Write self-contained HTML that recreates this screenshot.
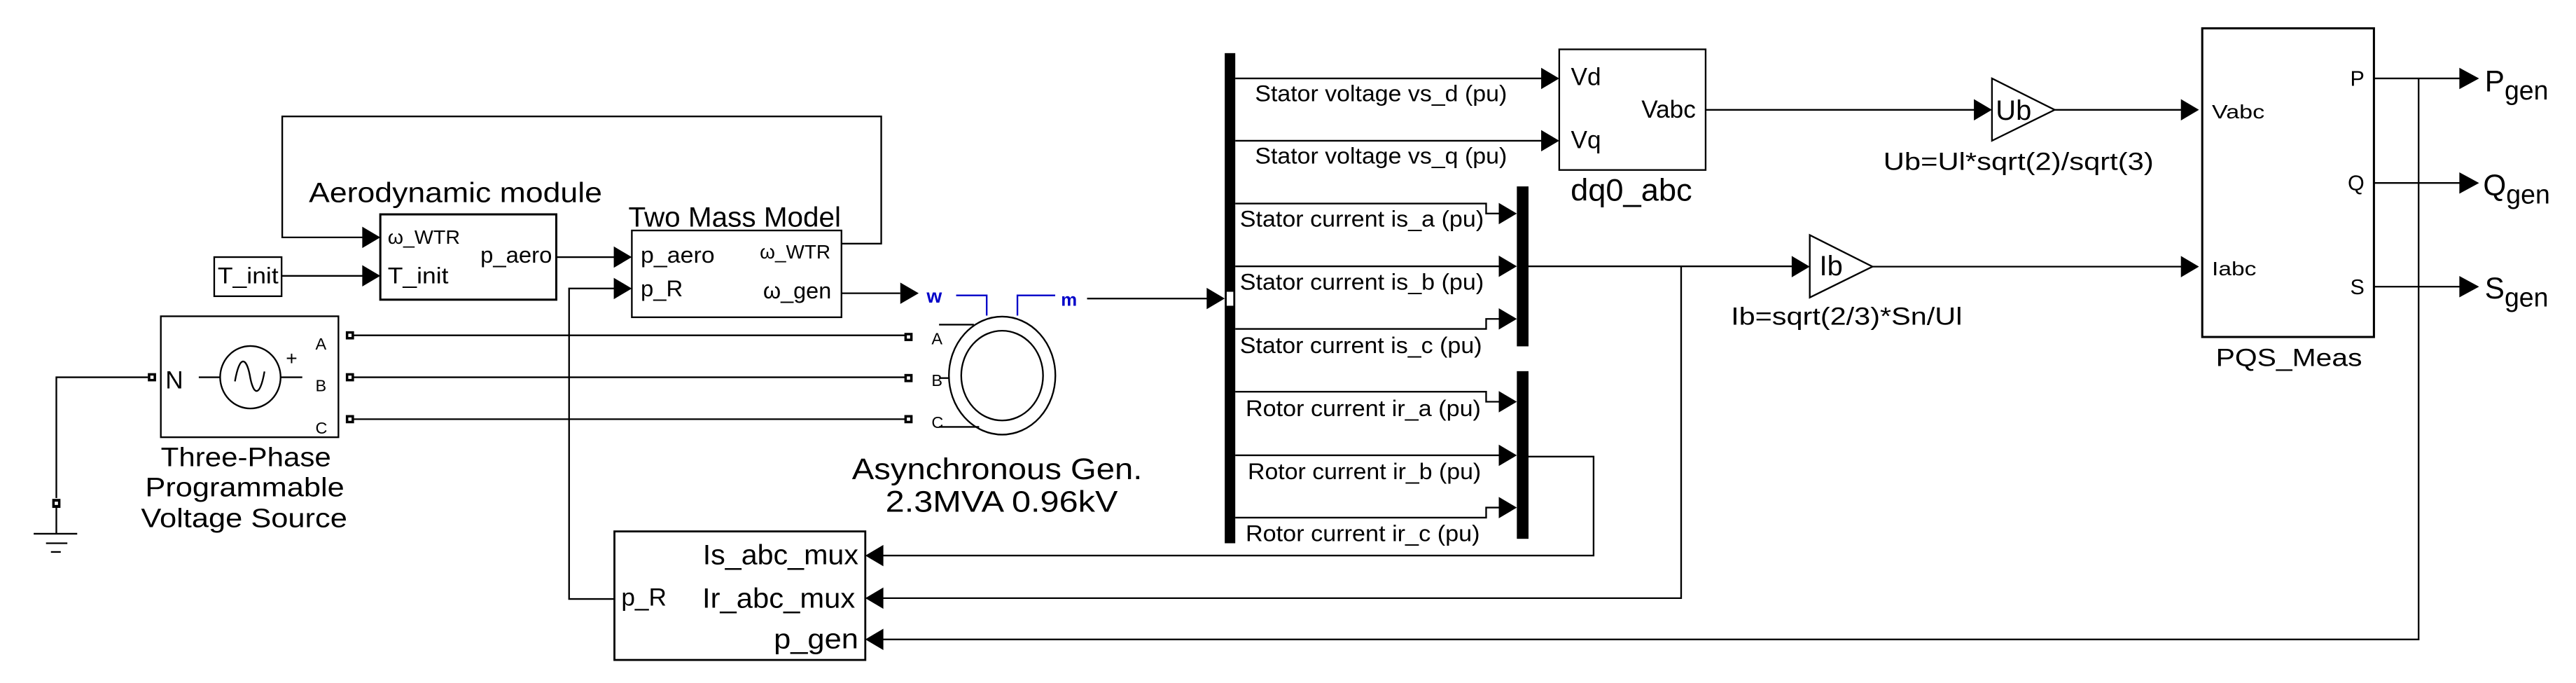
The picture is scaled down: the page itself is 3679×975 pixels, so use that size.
<!DOCTYPE html>
<html><head><meta charset="utf-8"><style>
html,body{margin:0;padding:0;background:#fff;}
svg{display:block;}
text{font-family:"Liberation Sans",Arial,sans-serif;fill:#000;}
</style></head><body>
<svg width="3679" height="975" viewBox="0 0 1568 415.5" xmlns="http://www.w3.org/2000/svg">
<g fill="none" stroke="#000" stroke-width="1">
<!-- top feedback loop -->
<polyline points="512.2,148.2 536.4,148.2 536.4,70.8 171.8,70.8 171.8,144.4 221,144.4"/>
<line x1="171.4" y1="167.8" x2="221" y2="167.8"/>
<line x1="338.6" y1="156.4" x2="374" y2="156.4"/>
<polyline points="374,175.5 346.4,175.5 346.4,364.4 374,364.4"/>
<line x1="512.2" y1="178.4" x2="548" y2="178.4"/>
<!-- boxes -->
<rect x="231.5" y="130.4" width="107.1" height="51.9" stroke-width="1.3"/>
<rect x="130.4" y="156.4" width="41" height="23.8"/>
<rect x="384.6" y="140.2" width="127.6" height="52.8"/>
<rect x="97.9" y="192.4" width="108.1" height="73.6"/>
<rect x="374" y="323.3" width="152.7" height="78.2" stroke-width="1.2"/>
<rect x="949.1" y="30" width="89.1" height="73.4"/>
<rect x="1340.5" y="17.2" width="104.5" height="187.8" stroke-width="1.3"/>
<!-- three phase lines -->
<line x1="214" y1="204" x2="551" y2="204"/>
<line x1="214" y1="229.5" x2="551" y2="229.5"/>
<line x1="214" y1="255" x2="551" y2="255"/>
<!-- ground -->
<polyline points="90,229.5 34.3,229.5 34.3,303"/>
<line x1="34.3" y1="309" x2="34.3" y2="324.7"/>
<line x1="20.5" y1="324.7" x2="47" y2="324.7"/>
<line x1="28" y1="330.5" x2="41" y2="330.5"/>
<line x1="31" y1="335.8" x2="37" y2="335.8"/>
<!-- AC source symbol -->
<ellipse cx="152.4" cy="229.5" rx="18.4" ry="19"/>
<line x1="121" y1="229.5" x2="134" y2="229.5"/>
<line x1="171" y1="229.5" x2="184" y2="229.5"/>
<path d="M143,232 C146,215 150,218 152,228 C154,240 158,243 161,226"/>
<!-- machine -->
<ellipse cx="610" cy="228.5" rx="32.4" ry="35.9"/>
<ellipse cx="610" cy="228.5" rx="24.9" ry="27.3"/>
<line x1="571.6" y1="197.5" x2="592.8" y2="197.5"/>
<line x1="571.6" y1="230" x2="577.5" y2="230"/>
<line x1="571.6" y1="259.7" x2="596" y2="259.7"/>
<g stroke="#0000c8"><polyline points="582,179.7 600.6,179.7 600.6,192"/><polyline points="619.3,192 619.3,179.7 642.3,179.7"/></g>
<line x1="661.7" y1="181.6" x2="736" y2="181.6"/>
<!-- demux outputs -->
<line x1="751.9" y1="47.7" x2="939" y2="47.7"/>
<line x1="751.9" y1="85.6" x2="939" y2="85.6"/>
<polyline points="751.9,123.8 904.6,123.8 904.6,129.9 913,129.9"/>
<line x1="751.9" y1="162" x2="913" y2="162"/>
<polyline points="751.9,200.1 904.6,200.1 904.6,194 913,194"/>
<polyline points="751.9,238.3 904.6,238.3 904.6,244.4 913,244.4"/>
<line x1="751.9" y1="277" x2="913" y2="277"/>
<polyline points="751.9,314.9 904.6,314.9 904.6,308.8 913,308.8"/>
<!-- mux outputs -->
<line x1="930.4" y1="162" x2="1091" y2="162"/>
<polyline points="1023.3,162 1023.3,363.9 537,363.9"/>
<polyline points="930.4,277.8 970,277.8 970,338 537,338"/>
<!-- gains -->
<line x1="1038.2" y1="66.8" x2="1202" y2="66.8"/>
<polygon points="1212.5,47.7 1250.7,66.8 1212.5,85.6"/>
<line x1="1250.7" y1="66.8" x2="1328" y2="66.8"/>
<polygon points="1101.6,143 1139.8,162.2 1101.6,181"/>
<line x1="1139.8" y1="162.2" x2="1328" y2="162.2"/>
<!-- PQS outputs -->
<line x1="1445" y1="47.7" x2="1498" y2="47.7"/>
<line x1="1445" y1="111.3" x2="1498" y2="111.3"/>
<line x1="1445" y1="174.4" x2="1498" y2="174.4"/>
<polyline points="1472.2,47.7 1472.2,389 537,389"/>
</g>
<!-- bars -->
<rect x="745.5" y="32.3" width="6.4" height="298.2" fill="#000"/>
<rect x="746.7" y="177.5" width="4" height="8.5" fill="#fff"/>
<rect x="923.3" y="113.4" width="7.1" height="97.3" fill="#000"/>
<rect x="923.3" y="225.8" width="7.1" height="102" fill="#000"/>
<!-- terminals -->
<g fill="#000">
<rect x="210.5" y="201.5" width="5" height="5"/><rect x="210.5" y="227" width="5" height="5"/><rect x="210.5" y="252.5" width="5" height="5"/>
<rect x="90" y="227" width="5" height="5"/>
<rect x="31.8" y="303.5" width="5" height="5.5"/>
<rect x="550.5" y="202.5" width="5" height="5"/><rect x="550.5" y="227.5" width="5" height="5"/><rect x="550.5" y="252.5" width="5" height="5"/>
</g>
<g fill="#fff"><rect x="212" y="203" width="2" height="2"/><rect x="212" y="228.5" width="2" height="2"/><rect x="212" y="254" width="2" height="2"/><rect x="91.5" y="228.5" width="2" height="2"/><rect x="33.3" y="305.2" width="2" height="2"/><rect x="552" y="204" width="2" height="2"/><rect x="552" y="229" width="2" height="2"/><rect x="552" y="254" width="2" height="2"/></g>
<!-- arrowheads -->
<g fill="#000">
<polygon points="220.5,137.9 231.5,144.4 220.5,150.9"/>
<polygon points="220.5,161.3 231.5,167.8 220.5,174.3"/>
<polygon points="373.6,149.9 384.6,156.4 373.6,162.9"/>
<polygon points="373.6,169 384.6,175.5 373.6,182"/>
<polygon points="548,171.9 559.2,178.4 548,184.9"/>
<polygon points="734.5,175.1 745.5,181.6 734.5,188.1"/>
<polygon points="938.1,41.2 949.1,47.7 938.1,54.2"/>
<polygon points="938.1,79.1 949.1,85.6 938.1,92.1"/>
<polygon points="912.3,123.4 923.3,129.9 912.3,136.4"/>
<polygon points="912.3,155.5 923.3,162 912.3,168.5"/>
<polygon points="912.3,187.5 923.3,194 912.3,200.5"/>
<polygon points="912.3,237.9 923.3,244.4 912.3,250.9"/>
<polygon points="912.3,270.5 923.3,277 912.3,283.5"/>
<polygon points="912.3,302.3 923.3,308.8 912.3,315.3"/>
<polygon points="1201.5,60.3 1212.5,66.8 1201.5,73.3"/>
<polygon points="1090.6,155.7 1101.6,162.2 1090.6,168.7"/>
<polygon points="1327.5,60.3 1338.5,66.8 1327.5,73.3"/>
<polygon points="1327.5,155.7 1338.5,162.2 1327.5,168.7"/>
<polygon points="1497,41.2 1509,47.7 1497,54.2"/>
<polygon points="1497,104.8 1509,111.3 1497,117.8"/>
<polygon points="1497,167.9 1509,174.4 1497,180.9"/>
<polygon points="537.7,331.5 526.7,338 537.7,344.5"/>
<polygon points="537.7,357.4 526.7,363.9 537.7,370.4"/>
<polygon points="537.7,382.5 526.7,389 537.7,395.5"/>
</g>
<!-- text -->
<text x="188" y="123" font-size="17" textLength="178.5" lengthAdjust="spacingAndGlyphs">Aerodynamic module</text>
<text x="382.5" y="137.8" font-size="17" textLength="129.4" lengthAdjust="spacingAndGlyphs">Two Mass Model</text>
<text x="236" y="148.4" font-size="12" textLength="44" lengthAdjust="spacingAndGlyphs">ω_WTR</text>
<text x="236" y="172.3" font-size="14" textLength="37" lengthAdjust="spacingAndGlyphs">T_init</text>
<text x="336" y="159.8" font-size="14" text-anchor="end">p_aero</text>
<text x="132.5" y="172.3" font-size="14" textLength="37" lengthAdjust="spacingAndGlyphs">T_init</text>
<text x="390" y="159.8" font-size="14" textLength="45" lengthAdjust="spacingAndGlyphs">p_aero</text>
<text x="390" y="180.2" font-size="14">p_R</text>
<text x="462.5" y="157.2" font-size="12" textLength="43" lengthAdjust="spacingAndGlyphs">ω_WTR</text>
<text x="464.5" y="181.6" font-size="14" textLength="41.5" lengthAdjust="spacingAndGlyphs">ω_gen</text>
<text x="100.7" y="236.4" font-size="15">N</text>
<text x="192" y="212.6" font-size="10">A</text>
<text x="192" y="238" font-size="10">B</text>
<text x="192" y="263.7" font-size="10">C</text>
<text x="174" y="222" font-size="12">+</text>
<text x="149.7" y="283.6" font-size="16" text-anchor="middle" textLength="103.6" lengthAdjust="spacingAndGlyphs">Three-Phase</text>
<text x="149" y="302" font-size="16" text-anchor="middle" textLength="121.2" lengthAdjust="spacingAndGlyphs">Programmable</text>
<text x="148.6" y="320.7" font-size="16" text-anchor="middle" textLength="125.5" lengthAdjust="spacingAndGlyphs">Voltage Source</text>
<text x="522.5" y="343.2" font-size="17" text-anchor="end" textLength="94.7" lengthAdjust="spacingAndGlyphs">Is_abc_mux</text>
<text x="520.5" y="369.7" font-size="17" text-anchor="end" textLength="93" lengthAdjust="spacingAndGlyphs">Ir_abc_mux</text>
<text x="522.5" y="394.4" font-size="17" text-anchor="end" textLength="51.5" lengthAdjust="spacingAndGlyphs">p_gen</text>
<text x="378.2" y="368.4" font-size="15">p_R</text>
<text x="567" y="209.4" font-size="10">A</text>
<text x="567" y="234.8" font-size="10">B</text>
<text x="567" y="260.3" font-size="10">C</text>
<text x="564" y="184" font-size="12" fill="#0000c8" style="fill:#0000c8;font-weight:bold">w</text>
<text x="645.8" y="186" font-size="11" style="fill:#0000c8;font-weight:bold">m</text>
<text x="518.6" y="291.5" font-size="18" textLength="176.7" lengthAdjust="spacingAndGlyphs">Asynchronous Gen.</text>
<text x="539" y="311.4" font-size="18" textLength="141.4" lengthAdjust="spacingAndGlyphs">2.3MVA 0.96kV</text>
<text x="763.9" y="61.5" font-size="14" textLength="153.4" lengthAdjust="spacingAndGlyphs">Stator voltage vs_d (pu)</text>
<text x="763.9" y="99.4" font-size="14" textLength="153.4" lengthAdjust="spacingAndGlyphs">Stator voltage vs_q (pu)</text>
<text x="754.7" y="137.8" font-size="14" textLength="148.5" lengthAdjust="spacingAndGlyphs">Stator current is_a (pu)</text>
<text x="754.7" y="176.2" font-size="14" textLength="148.5" lengthAdjust="spacingAndGlyphs">Stator current is_b (pu)</text>
<text x="754.7" y="214.7" font-size="14" textLength="147.4" lengthAdjust="spacingAndGlyphs">Stator current is_c (pu)</text>
<text x="758.2" y="253.1" font-size="14" textLength="143.2" lengthAdjust="spacingAndGlyphs">Rotor current ir_a (pu)</text>
<text x="759.5" y="291.5" font-size="14" textLength="142" lengthAdjust="spacingAndGlyphs">Rotor current ir_b (pu)</text>
<text x="758.2" y="329.2" font-size="14" textLength="142.6" lengthAdjust="spacingAndGlyphs">Rotor current ir_c (pu)</text>
<text x="956.2" y="51.7" font-size="15">Vd</text>
<text x="956.2" y="90.1" font-size="15">Vq</text>
<text x="1032.2" y="71.6" font-size="15" text-anchor="end">Vabc</text>
<text x="956" y="122" font-size="19" textLength="74" lengthAdjust="spacingAndGlyphs">dq0_abc</text>
<text x="1214.8" y="72.9" font-size="17">Ub</text>
<text x="1107.5" y="167.5" font-size="17">Ib</text>
<text x="1146.4" y="103.4" font-size="15" textLength="164.5" lengthAdjust="spacingAndGlyphs">Ub=Ul*sqrt(2)/sqrt(3)</text>
<text x="1053.6" y="197.5" font-size="15" textLength="140.8" lengthAdjust="spacingAndGlyphs">Ib=sqrt(2/3)*Sn/Ul</text>
<text x="1346.4" y="72.1" font-size="12" textLength="32" lengthAdjust="spacingAndGlyphs">Vabc</text>
<text x="1346.4" y="167.5" font-size="12" textLength="27" lengthAdjust="spacingAndGlyphs">Iabc</text>
<text x="1439.2" y="52.2" font-size="13" text-anchor="end">P</text>
<text x="1439.2" y="115.8" font-size="13" text-anchor="end">Q</text>
<text x="1439.2" y="178.9" font-size="13" text-anchor="end">S</text>
<text x="1348.8" y="222.6" font-size="15" textLength="89" lengthAdjust="spacingAndGlyphs">PQS_Meas</text>
<text x="1512.5" y="55.5" font-size="18">P<tspan font-size="16" dy="5">gen</tspan></text>
<text x="1511.5" y="118.8" font-size="18">Q<tspan font-size="16" dy="5">gen</tspan></text>
<text x="1512.5" y="181.5" font-size="18">S<tspan font-size="16" dy="5">gen</tspan></text>
</svg>
</body></html>
